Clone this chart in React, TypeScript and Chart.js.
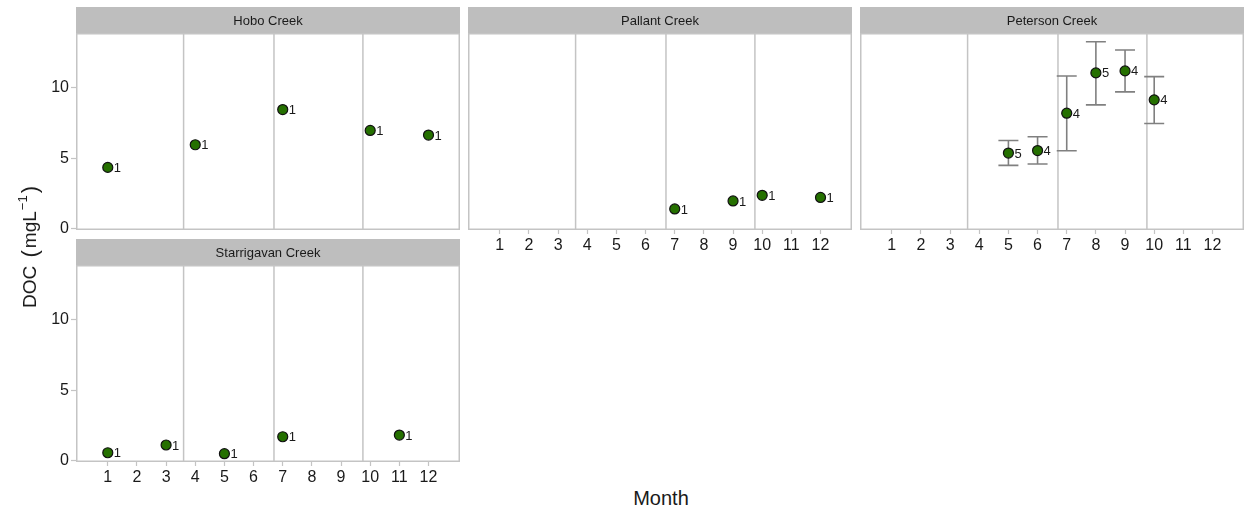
import React, { useEffect, useRef } from "react";
import { Chart, registerables } from "chart.js";

Chart.register(...registerables);

// Monthly mean dissolved organic carbon (mg/L) per creek, with sample counts
const hoboMonths = [1, 4, 7, 10, 12];
const hoboDoc = [4.34, 5.95, 8.46, 6.97, 6.64];
const hoboN = [1, 1, 1, 1, 1];

const pallantMonths = [7, 9, 10, 12];
const pallantDoc = [1.38, 1.95, 2.35, 2.2];
const pallantN = [1, 1, 1, 1];

const petersonMonths = [5, 6, 7, 8, 9, 10];
const petersonDoc = [5.36, 5.54, 8.2, 11.07, 11.21, 9.15];
const petersonLow = [4.48, 4.58, 5.52, 8.79, 9.72, 7.46];
const petersonHigh = [6.25, 6.52, 10.85, 13.29, 12.7, 10.8];
const petersonN = [5, 4, 4, 5, 4, 4];

const starrigavanMonths = [1, 3, 5, 7, 11];
const starrigavanDoc = [0.54, 1.09, 0.47, 1.68, 1.8];
const starrigavanN = [1, 1, 1, 1, 1];

const monthTicks = [1, 2, 3, 4, 5, 6, 7, 8, 9, 10, 11, 12];
const docTicks = [0, 5, 10];
// equinox / solstice markers (fractional month)
const seasonBreaks = [3.6, 6.7, 9.75];

const X_MIN = -0.09;
const X_MAX = 13.08;
const Y_MIN = -0.12;
const Y_MAX = 13.91;

const STRIP_H = 26;
const PLOT_W = 384;
const PLOT_H = 197;
const Y_AXIS_W = 40;
const X_AXIS_H = 30;
const LABEL_ROOM = 8; // room below a panel without x axis, for the lowest y label

const FONT = '"Liberation Sans", Arial, Helvetica, sans-serif';
const TEXT = "#1a1a1a";
const FRAME = "#c4c4c4";
const STRIP = "#bebebe";
const POINT_FILL = "#257000";
const ERR = "#808080";

type PanelProps = {
  name: string;
  months: number[];
  doc: number[];
  n: number[];
  low?: number[];
  high?: number[];
  showX: boolean;
  showY: boolean;
  left: number;
  top: number;
};

function Panel(p: PanelProps) {
  const ref = useRef<HTMLCanvasElement>(null);
  const yW = p.showY ? Y_AXIS_W : 0;
  const xH = p.showX ? X_AXIS_H : 0;
  const padBottom = p.showX ? 0 : LABEL_ROOM;
  const w = yW + PLOT_W;
  const h = STRIP_H + PLOT_H + xH + padBottom;

  useEffect(() => {
    const facet = {
      id: "facet",
      beforeDraw(chart: any) {
        const { ctx, chartArea: a } = chart;
        ctx.save();
        ctx.fillStyle = STRIP;
        ctx.fillRect(a.left, a.top - STRIP_H, a.right - a.left, STRIP_H);
        ctx.fillStyle = TEXT;
        ctx.font = `13px ${FONT}`;
        ctx.textAlign = "center";
        ctx.textBaseline = "middle";
        ctx.fillText(p.name, (a.left + a.right) / 2, a.top - STRIP_H / 2 + 1);
        ctx.restore();
      },
      beforeDatasetsDraw(chart: any) {
        const { ctx, chartArea: a, scales } = chart;
        const x = scales.x;
        const y = scales.y;
        ctx.save();
        ctx.strokeStyle = FRAME;
        ctx.lineWidth = 1.5;
        seasonBreaks.forEach((b) => {
          const px = x.getPixelForValue(b);
          ctx.beginPath();
          ctx.moveTo(px, a.top);
          ctx.lineTo(px, a.bottom);
          ctx.stroke();
        });
        ctx.strokeRect(a.left + 0.75, a.top + 0.75, a.right - a.left - 1.5, a.bottom - a.top - 1.5);
        if (p.low && p.high) {
          ctx.strokeStyle = ERR;
          ctx.lineWidth = 1.6;
          p.months.forEach((m, i) => {
            const px = x.getPixelForValue(m);
            const lo = y.getPixelForValue(p.low![i]);
            const hi = y.getPixelForValue(p.high![i]);
            ctx.beginPath();
            ctx.moveTo(px, lo);
            ctx.lineTo(px, hi);
            ctx.moveTo(px - 10, lo);
            ctx.lineTo(px + 10, lo);
            ctx.moveTo(px - 10, hi);
            ctx.lineTo(px + 10, hi);
            ctx.stroke();
          });
        }
        ctx.restore();
      },
      afterDatasetsDraw(chart: any) {
        const { ctx, scales } = chart;
        ctx.save();
        ctx.fillStyle = TEXT;
        ctx.font = `13px ${FONT}`;
        ctx.textAlign = "left";
        ctx.textBaseline = "middle";
        p.months.forEach((m, i) => {
          const px = scales.x.getPixelForValue(m);
          const py = scales.y.getPixelForValue(p.doc[i]);
          ctx.fillText(String(p.n[i]), px + 6, py + 1);
        });
        ctx.restore();
      },
    };

    const chart = new Chart(ref.current as HTMLCanvasElement, {
      type: "scatter",
      data: {
        datasets: [
          {
            data: p.months.map((m, i) => ({ x: m, y: p.doc[i] })),
            pointRadius: 5,
            pointHoverRadius: 5,
            pointBorderWidth: 1.2,
            pointBackgroundColor: POINT_FILL,
            pointBorderColor: "#111111",
          },
        ],
      },
      options: {
        animation: false,
        responsive: false,
        events: [],
        layout: { autoPadding: false, padding: { top: STRIP_H, left: 0, right: 0, bottom: padBottom } },
        plugins: { legend: { display: false }, tooltip: { enabled: false } },
        scales: {
          x: {
            type: "linear",
            display: p.showX,
            min: X_MIN,
            max: X_MAX,
            afterBuildTicks: (s: any) => {
              s.ticks = monthTicks.map((v) => ({ value: v }));
            },
            afterFit: (s: any) => {
              s.height = xH;
              s.paddingLeft = 0;
              s.paddingRight = 0;
              s.paddingTop = 0;
              s.paddingBottom = 0;
            },
            grid: {
              drawOnChartArea: false,
              drawTicks: true,
              tickLength: 4,
              tickColor: FRAME,
              tickWidth: 1.2,
            },
            border: { display: false },
            ticks: {
              autoSkip: false,
              maxRotation: 0,
              padding: 2,
              color: TEXT,
              font: { family: FONT, size: 16 },
              callback: (v: any) => String(v),
            },
          },
          y: {
            type: "linear",
            display: p.showY,
            min: Y_MIN,
            max: Y_MAX,
            afterBuildTicks: (s: any) => {
              s.ticks = docTicks.map((v) => ({ value: v }));
            },
            afterFit: (s: any) => {
              s.width = yW;
              s.paddingLeft = 0;
              s.paddingRight = 0;
              s.paddingTop = 0;
              s.paddingBottom = 0;
            },
            grid: {
              drawOnChartArea: false,
              drawTicks: true,
              tickLength: 5,
              tickColor: FRAME,
              tickWidth: 1.2,
            },
            border: { display: false },
            ticks: {
              padding: 2,
              color: TEXT,
              font: { family: FONT, size: 16 },
              callback: (v: any) => String(v),
            },
          },
        },
      } as any,
      plugins: [facet],
    });
    return () => chart.destroy();
  }, []);

  return (
    <canvas
      ref={ref}
      width={w}
      height={h}
      style={{ position: "absolute", left: p.left - yW, top: p.top - STRIP_H, width: w, height: h }}
    />
  );
}

export default function App() {
  return (
    <div
      style={{
        position: "fixed",
        left: 0,
        top: 0,
        width: 1244,
        height: 512,
        background: "#ffffff",
        overflow: "hidden",
        fontFamily: FONT,
        color: TEXT,
      }}
    >
      <Panel name="Hobo Creek" months={hoboMonths} doc={hoboDoc} n={hoboN} showX={false} showY={true} left={76} top={33} />
      <Panel name="Pallant Creek" months={pallantMonths} doc={pallantDoc} n={pallantN} showX={true} showY={false} left={468} top={33} />
      <Panel
        name="Peterson Creek"
        months={petersonMonths}
        doc={petersonDoc}
        n={petersonN}
        low={petersonLow}
        high={petersonHigh}
        showX={true}
        showY={false}
        left={860}
        top={33}
      />
      <Panel name="Starrigavan Creek" months={starrigavanMonths} doc={starrigavanDoc} n={starrigavanN} showX={true} showY={true} left={76} top={265} />
      <div
        style={{
          position: "absolute",
          left: 30,
          top: 247,
          transform: "translate(-50%, -50%) rotate(-90deg)",
          whiteSpace: "nowrap",
          fontSize: 19,
          lineHeight: 1,
        }}
      >
        DOC{" "}
        <span style={{ fontSize: 22, margin: "0 2px 0 3px", verticalAlign: "-1px" }}>(</span>mgL
        <sup style={{ fontSize: 13, verticalAlign: "9px", lineHeight: 0, marginLeft: 1 }}>−1</sup>
        <span style={{ fontSize: 22, marginLeft: 2, verticalAlign: "-1px" }}>)</span>
      </div>
      <div
        style={{
          position: "absolute",
          left: 661,
          top: 498,
          transform: "translate(-50%, -50%)",
          whiteSpace: "nowrap",
          fontSize: 20,
          lineHeight: 1,
        }}
      >
        Month
      </div>
    </div>
  );
}
